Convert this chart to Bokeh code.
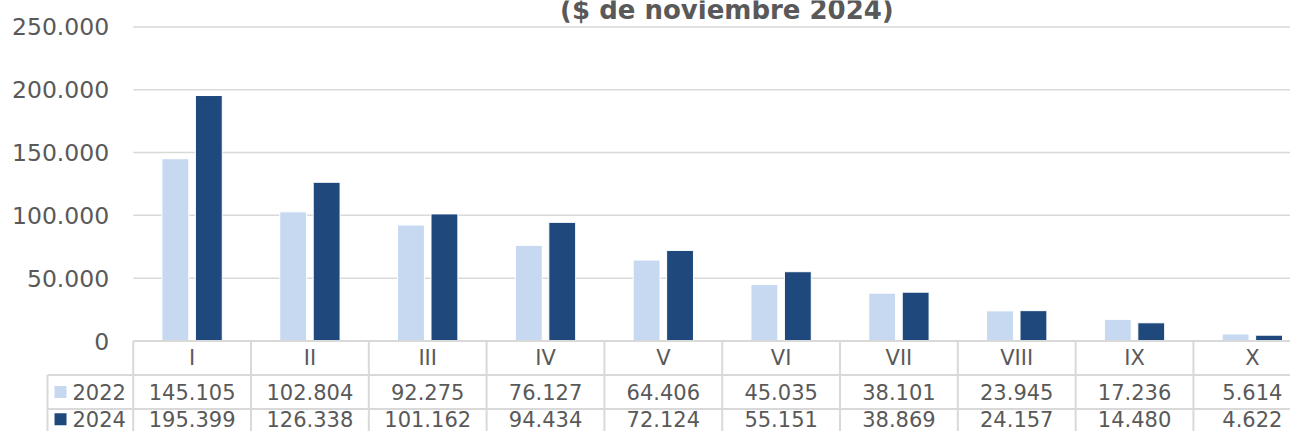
from bokeh.plotting import figure
from bokeh.models import Range1d, LinearAxis, FixedTicker, Label, ColumnDataSource
from bokeh.transform import dodge
from bokeh.core.properties import value
from bokeh.embed import file_html
from bokeh.resources import INLINE

# ---------------- data ----------------
deciles = ["I", "II", "III", "IV", "V", "VI", "VII", "VIII", "IX", "X"]
series_names = ["2022", "2024"]
v2022 = [145105, 102804, 92275, 76127, 64406, 45035, 38101, 23945, 17236, 5614]
v2024 = [195399, 126338, 101162, 94434, 72124, 55151, 38869, 24157, 14480, 4622]
y_ticks = [0, 50000, 100000, 150000, 200000, 250000]
y_tick_labels = ["0", "50.000", "100.000", "150.000", "200.000", "250.000"]
title_text = "($ de noviembre 2024)"

# ---------------- style ----------------
C_LIGHT = "#C6D9F1"
C_DARK = "#1F497D"
C_TEXT = "#595959"
C_GRID = "#D9D9D9"
FONT = "DejaVu Sans"

W, H = 1290, 431
n = len(deciles)

def fmt(v):
    return f"{v:,}".replace(",", ".")

p = figure(width=W, height=H,
           x_range=Range1d(-1.1265, 9.824),
           y_range=Range1d(-72038, 271038),
           output_backend="svg", toolbar_location=None,
           min_border=0, x_axis_location=None, y_axis_location=None,
           outline_line_color=None)
p.xgrid.visible = False
p.ygrid.visible = False
p.background_fill_color = "white"
p.border_fill_color = "white"

# table coordinate system: one unit per table row, 0 = top border of table
p.extra_y_ranges = {"tbl": Range1d(-2.662, 10.015)}

# y axis
yaxis = LinearAxis(fixed_location=0,
                   ticker=FixedTicker(ticks=y_ticks),
                   major_label_overrides={t: l for t, l in zip(y_ticks, y_tick_labels)},
                   axis_line_color=None, major_tick_line_color=None,
                   minor_tick_line_color=None, major_tick_out=0, major_tick_in=0,
                   major_label_standoff=24,
                   major_label_text_font=FONT,
                   major_label_text_font_size="23.5px",
                   major_label_text_color=C_TEXT)
p.add_layout(yaxis, "left")

# gridlines (from the category area start to the right edge)
grid_src = ColumnDataSource(dict(y=y_ticks[1:]))
p.segment(x0=0, x1=n, y0="y", y1="y", source=grid_src,
          line_color=C_GRID, line_width=1.5)

# bars
src = ColumnDataSource(dict(xc=[i + 0.5 for i in range(n)], v2022=v2022, v2024=v2024))
p.vbar(x=dodge("xc", -0.142, range=p.x_range), top="v2022", bottom=0, width=0.228,
       source=src, fill_color=C_LIGHT, line_color="white", line_width=1)
p.vbar(x=dodge("xc", 0.142, range=p.x_range), top="v2024", bottom=0, width=0.228,
       source=src, fill_color=C_DARK, line_color="white", line_width=1)

# ---------------- data table ----------------
legend_left = -0.7275
# horizontal borders
h_y = [0, -1, -2, -3]
h_x0 = [0, legend_left, legend_left, legend_left]
p.segment(x0=h_x0, x1=[n + 0.5] * 4, y0=h_y, y1=h_y, y_range_name="tbl",
          line_color=C_GRID, line_width=2)
# vertical borders
v_x = [legend_left] + list(range(n + 1))
v_y0 = [-1] + [0] * (n + 1)
p.segment(x0=v_x, x1=v_x, y0=v_y0, y1=[-3.2] * len(v_x), y_range_name="tbl",
          line_color=C_GRID, line_width=2)

row_y = [-0.5, -1.5, -2.30]

# category labels
p.text(x=[i + 0.5 for i in range(n)], y=[row_y[0]] * n, text=deciles, y_range_name="tbl",
       text_align="center", text_baseline="middle",
       text_font=value(FONT), text_font_size="21px", text_color=C_TEXT)
# values
p.text(x=[i + 0.5 for i in range(n)], y=[row_y[1]] * n, text=[fmt(v) for v in v2022],
       y_range_name="tbl", text_align="center", text_baseline="middle",
       text_font=value(FONT), text_font_size="21px", text_color=C_TEXT)
p.text(x=[i + 0.5 for i in range(n)], y=[row_y[2]] * n, text=[fmt(v) for v in v2024],
       y_range_name="tbl", text_align="center", text_baseline="middle",
       text_font=value(FONT), text_font_size="21px", text_color=C_TEXT)

# legend keys inside the table
p.scatter(x=[-0.617, -0.617], y=row_y[1:], marker="square", size=12,
          fill_color=[C_LIGHT, C_DARK], line_color=None, y_range_name="tbl")
p.text(x=[-0.5153, -0.5153], y=row_y[1:], text=series_names, y_range_name="tbl",
       text_align="left", text_baseline="middle",
       text_font=value(FONT), text_font_size="21px", text_color=C_TEXT)

# title (only its second line is visible in the reference)
p.add_layout(Label(x=n / 2 + 0.04, y=9.75, y_range_name="tbl", text=title_text,
                   text_align="center", text_baseline="alphabetic",
                   text_font=FONT, text_font_style="bold", text_font_size="26px",
                   text_color=C_TEXT))

open("out.html", "w").write(file_html(p, INLINE))
